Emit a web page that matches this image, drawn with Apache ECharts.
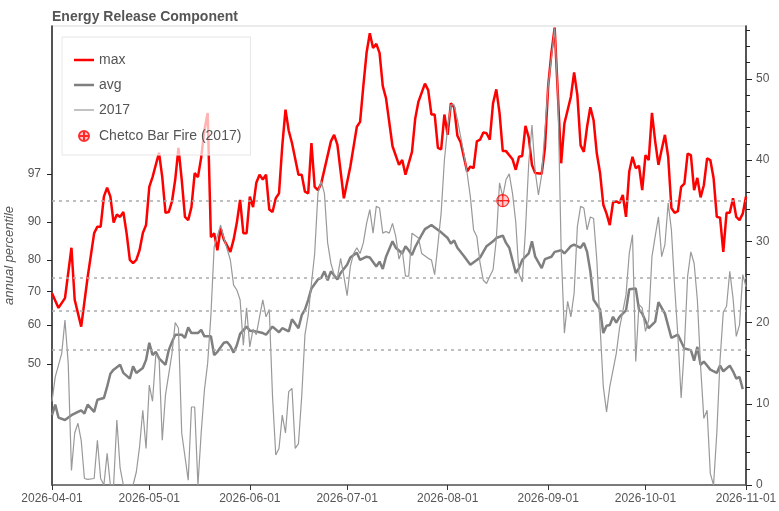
<!DOCTYPE html>
<html><head><meta charset="utf-8">
<script src="https://cdn.jsdelivr.net/npm/echarts@6/dist/echarts.min.js"></script>
<style>html,body{margin:0;padding:0;background:#fff}#c{width:779px;height:511px}</style>
</head><body><div id="c"></div><script>
// ---- data (day offsets from 2026-04-01, values in ERC units) ----
const maxDays = [0,2,4,6,7,9,11,13,14,15,16,17,18,19,20,21,22,23,24,25,26,27,28,29,30,31,33,34,35,36,37,38,39,40,41,42,43,44,45,46,47,48,49,50,51,52,53,55,56,57,58,59,60,61,62,63,64,65,66,67,68,69,70,71,72,73,74,76,77,78,79,80,81,82,83,86,87,88,90,92,94,95,96,97,98,99,100,101,102,103,105,107,108,109,111,112,113,115,116,117,118,119,120,121,122,123,124,125,126,128,129,130,131,132,133,134,135,136,137,138,139,140,142,143,144,145,146,147,148,149,151,152,153,154,155,156,157,158,160,161,162,163,164,165,166,167,168,169,170,171,172,173,174,175,176,177,178,179,180,181,182,183,184,185,186,187,188,189,190,191,192,193,194,195,196,197,198,199,200,201,202,203,204,205,206,207,208,209,210,211,212,213,214];
const maxVals = [23.6,21.8,23.0,29.2,22.8,19.5,25.6,31.0,31.8,31.8,35.5,36.6,35.5,32.3,33.3,33.0,33.6,31.0,27.7,27.3,27.7,28.9,31.0,32.0,36.7,37.9,40.9,37.9,33.5,33.6,34.9,37.6,41.5,37.6,33.0,32.6,34.2,38.4,37.9,40.3,43.7,45.8,30.5,31.0,28.9,31.6,30.2,28.7,30.2,32.3,35.1,31.0,31.0,35.5,34.2,37.2,38.2,37.6,38.2,33.9,33.6,35.3,35.9,41.7,46.2,43.6,42.1,38.2,38.2,36.1,35.9,42.1,36.7,36.3,37.1,42.3,43.1,41.9,35.3,39.2,44.1,44.7,49.1,53.2,55.6,53.8,54.3,53.2,49.1,47.6,41.7,39.4,40.0,38.2,41.0,45.1,47.2,49.4,48.6,45.6,45.6,41.5,41.3,45.6,43.1,47.0,46.5,43.0,42.2,38.6,39.2,39.0,42.3,42.5,43.4,43.3,42.5,47.0,48.7,45.8,41.1,41.1,40.1,38.8,40.4,40.5,44.2,42.8,39.4,38.4,38.3,41.5,49.1,53.2,56.3,48.0,39.6,44.5,47.8,50.8,48.0,41.8,41.0,44.1,46.5,44.9,40.8,38.4,34.5,33.4,32.0,34.8,34.9,34.7,35.7,33.0,38.6,40.4,39.0,39.3,36.3,40.6,40.0,45.8,42.3,39.4,41.3,43.1,40.4,34.1,33.5,33.7,36.7,37.1,40.8,40.6,36.3,37.8,35.4,36.9,40.2,40.0,37.8,33.0,32.9,28.7,33.5,33.5,35.3,33.0,32.6,33.4,35.5];

const avgDays = [0,1,2,4,6,8,9,10,11,13,14,16,17,18,19,21,22,24,25,26,28,29,30,31,32,33,35,36,37,38,40,41,42,43,45,46,47,49,50,51,53,54,55,56,57,58,60,61,63,65,66,68,70,71,73,74,76,77,78,79,80,82,83,84,85,86,88,89,91,92,94,95,97,98,100,101,102,103,105,106,108,109,110,111,112,114,115,117,118,120,122,123,124,125,127,129,131,132,134,136,137,139,140,141,143,144,145,147,148,149,151,152,154,155,157,158,160,161,163,164,165,166,167,169,170,171,172,173,174,175,177,178,180,181,182,184,186,187,189,191,193,195,197,198,199,200,201,203,205,206,207,209,210,211,212,213];
const avgVals = [8.6,9.9,8.3,8.0,8.6,9.0,9.2,8.8,9.9,9.0,10.5,10.7,12.1,13.7,14.2,14.8,13.8,13.1,14.6,13.8,14.4,15.4,17.5,16.0,16.4,15.6,14.8,16.6,17.6,18.5,18.5,18.1,19.4,18.7,18.7,19.1,18.3,18.3,16.0,16.4,17.5,17.6,17.1,16.3,17.2,18.6,19.5,19.0,18.9,18.7,18.5,19.5,18.8,19.3,18.9,20.4,19.3,20.9,21.6,22.8,24.2,25.3,25.5,26.3,25.2,26.3,25.3,26.1,27.1,28.0,28.6,27.7,28.1,28.0,26.9,27.5,26.6,28.1,30.0,29.2,28.5,29.4,28.9,28.3,29.3,30.8,31.5,32.0,31.7,31.1,30.4,29.7,30.1,29.2,28.2,27.1,27.7,28.0,29.4,30.0,30.4,30.7,29.8,29.2,26.1,26.7,27.7,28.5,30.0,28.1,26.7,27.8,28.1,28.7,28.9,28.5,29.4,29.6,29.2,29.8,28.7,26.3,22.8,21.6,18.7,19.6,19.7,20.7,20.0,20.7,21.5,24.1,24.2,21.6,21.1,19.3,20.1,22.5,21.1,18.1,18.5,16.8,16.6,15.3,17.0,14.8,15.2,14.2,13.8,14.7,14.0,14.7,14.0,13.1,13.3,11.8];

const y2017Days = [0,1,3,4,5,6,7,8,9,10,11,13,14,15,16,17,18,19,20,21,22,25,26,27,28,29,30,31,32,33,34,35,37,38,39,40,42,43,44,45,46,47,48,49,50,52,53,55,56,57,58,59,60,61,62,63,64,65,66,67,68,69,70,71,72,73,74,75,76,77,78,79,80,81,82,83,84,85,86,87,88,89,90,91,92,93,94,95,96,97,98,99,100,101,102,103,104,105,106,107,108,109,110,111,113,114,116,117,118,119,120,121,122,123,124,125,126,127,128,129,130,131,132,133,134,135,136,137,138,139,140,141,142,143,144,145,146,147,148,149,150,151,153,155,156,157,158,159,160,161,162,163,164,165,166,167,168,169,170,171,172,174,175,177,178,179,180,181,182,183,184,185,186,187,188,189,190,191,192,193,194,195,196,197,198,199,200,201,202,203,204,205,206,207,208,209,210,211,212,213,214];
const y2017Vals = [10.3,13.3,16.2,20.3,15.0,1.8,6.4,7.6,5.5,0.8,0.7,0.8,5.5,0.8,0,3.9,0,0,8.0,2.1,0,0,1.6,4.7,9.2,4.5,12.3,10.3,16.0,15.8,5.5,11.1,16.2,20.0,19.3,6.4,0.6,9.6,9.6,0,6.4,11.7,15.0,20.9,29.3,32.0,30.4,27.7,24.6,24.0,22.8,17.2,21.8,17.0,19.2,18.5,20.7,22.8,20.7,21.6,10.9,3.7,4.5,8.6,6.4,11.5,11.9,4.5,5.1,10.9,18.5,20.9,24.8,28.5,35.9,37.4,35.9,29.8,27.3,25.9,25.5,27.9,25.7,23.3,26.9,28.5,29.2,28.5,29.8,32.2,33.9,31.0,34.3,34.1,31.0,31.2,31.0,32.2,30.6,27.8,28.9,25.7,25.7,31.0,30.4,28.5,27.9,27.7,25.9,29.6,33.5,40.0,44.0,46.8,46.8,45.0,42.9,40.8,38.4,35.5,31.4,30.6,27.3,25.2,24.8,25.7,26.5,30.2,37.2,35.5,37.6,38.3,35.9,32.4,26.0,25.0,31.4,39.6,44.3,38.6,35.7,38.2,49.1,56.2,48.0,29.0,18.7,22.6,20.7,23.6,31.8,34.3,34.1,31.4,33.0,32.8,27.7,19.5,12.1,9.0,12.1,16.2,19.3,23.4,28.5,30.8,15.2,22.2,21.8,18.9,20.3,28.1,30.6,33.0,28.1,29.6,34.7,31.4,24.4,18.3,10.7,17.0,25.7,28.7,27.3,22.8,14.6,8.2,9.2,1.4,0,6.4,15.4,21.3,22.0,26.3,23.0,18.3,19.7,25.9,24.4];

const fireDay = [139];
const fireVal = [35.0];

const pctLabels = ['50','60','70','80','90','97'];
const pctPos = [14.9,19.7,23.8,27.7,32.4,38.3];
const dashedLevels = [35.0,25.5,21.5,16.6];
const rightTicks = [0,10,20,30,40,50];
const minorTicks = [2,4,6,8,12,14,16,18,22,24,26,28,32,34,36,38,42,44,46,48,52,54,56];
const monthTicks = ['2026-04-01','2026-05-01','2026-06-01','2026-07-01','2026-08-01','2026-09-01','2026-10-01','2026-11-01'];
const YMAX = 56.5;

// ---- helpers ----
function ts(day){ return new Date(2026, 3, 1 + day).getTime(); }
function parseD(s){ const p = s.split('-').map(Number); return new Date(p[0], p[1]-1, p[2]).getTime(); }
function pad(n){ return (n<10?'0':'')+n; }
function fmt(v){ const d = new Date(v); return d.getFullYear()+'-'+pad(d.getMonth()+1)+'-'+pad(d.getDate()); }
function pairs(days, vals){ return days.map((d,i)=>[ts(d), vals[i]]); }

// legend icons (line bars padded to the 20x14 icon box; small circled plus)
const ICON_THICK = 'path://M0,0L0,0M0,14L0,14M0,5.75H20V8.25H0Z';
const ICON_THIN = 'path://M0,0L0,0M0,14L0,14M0,6.4H20V7.6H0Z';
const FIRE_SYMBOL = 'path://M10,0A10,10,0,1,1,-10,0A10,10,0,1,1,10,0ZM-10,0L10,0M0,-10L0,10';
const FIRE_ICON = 'path://M-20,-14L-20,-14M20,14L20,14M10,0A10,10,0,1,1,-10,0A10,10,0,1,1,10,0ZM-10,0L10,0M0,-10L0,10';

const FONT = 'Liberation Sans, Arial, sans-serif';
const monthTs = monthTicks.map(parseD);
const chart = echarts.init(document.getElementById('c'), null, {renderer:'canvas'});
chart.setOption({
  animation:false,
  textStyle:{fontFamily:FONT},
  title:{text:'Energy Release Component', left:47, top:5, textStyle:{fontSize:14, fontWeight:'bold', color:'#555', fontFamily:FONT}},
  grid:{left:52, right:33, top:26, bottom:26, containLabel:false, outerBoundsMode:'none', show:true, borderColor:'#ebebeb', borderWidth:2, backgroundColor:'transparent'},
  legend:{
    orient:'vertical', left:62, top:37, padding:[16,9,11,11], itemGap:11, itemWidth:20, itemHeight:14,
    backgroundColor:'rgba(255,255,255,0.7)', borderColor:'#e6e6e6', borderWidth:1, borderRadius:0,
    textStyle:{fontSize:14, color:'#555', fontFamily:FONT},
    data:[
      {name:'max', icon:ICON_THICK},
      {name:'avg', icon:ICON_THICK},
      {name:'2017', icon:ICON_THIN},
      {name:'Chetco Bar Fire (2017)', icon:FIRE_ICON}
    ]
  },
  xAxis:{
    type:'value', min:monthTs[0], max:monthTs[monthTs.length-1],
    axisLine:{show:true, lineStyle:{color:'#555', width:1.5}},
    axisTick:{show:true, customValues:monthTs, length:5, lineStyle:{color:'#333'}},
    axisLabel:{customValues:monthTs, formatter:fmt, color:'#555', fontSize:12, margin:8, fontFamily:FONT},
    splitLine:{show:false}
  },
  yAxis:[
    {
      type:'value', position:'left', min:0, max:YMAX,
      axisLine:{show:true, lineStyle:{color:'#222', width:1.5}},
      axisTick:{show:true, customValues:pctPos, length:5, lineStyle:{color:'#222'}},
      axisLabel:{customValues:pctPos, color:'#555', fontSize:12, margin:11, fontFamily:FONT,
        formatter:function(v){ for(let i=0;i<pctPos.length;i++){ if(Math.abs(pctPos[i]-v)<1e-6) return pctLabels[i]; } return ''; }},
      splitLine:{show:false},
      name:'annual percentile', nameLocation:'middle', nameGap:36,
      nameTextStyle:{fontStyle:'italic', color:'#555', fontSize:13, fontFamily:FONT}
    },
    {
      type:'value', position:'right', min:0, max:YMAX,
      axisLine:{show:true, lineStyle:{color:'#222', width:1.5}},
      axisTick:{show:true, customValues:rightTicks, length:6, lineStyle:{color:'#222'}},
      axisLabel:{customValues:rightTicks, color:'#555', fontSize:12, margin:10, fontFamily:FONT},
      splitLine:{show:false}
    },
    {
      type:'value', position:'right', min:0, max:YMAX, offset:0,
      axisLine:{show:false},
      axisTick:{show:true, customValues:minorTicks, length:4, lineStyle:{color:'#222'}},
      axisLabel:{show:false},
      splitLine:{show:false}
    }
  ],
  series:[
    {name:'max', type:'line', data:pairs(maxDays,maxVals), symbol:'none', lineStyle:{color:'#ff0000', width:2.5}, itemStyle:{color:'#ff0000'}, z:2},
    {name:'avg', type:'line', data:pairs(avgDays,avgVals), symbol:'none', lineStyle:{color:'#7f7f7f', width:2.5}, itemStyle:{color:'#7f7f7f'}, z:3,
      markLine:{silent:true, symbol:'none', label:{show:false}, lineStyle:{color:'#aaa', type:[3,4], width:1.5}, data:dashedLevels.map(v=>({yAxis:v}))}},
    {name:'2017', type:'line', data:pairs(y2017Days,y2017Vals), symbol:'none', lineStyle:{color:'#999', width:1.2}, itemStyle:{color:'#999'}, z:4},
    {name:'Chetco Bar Fire (2017)', type:'scatter', data:pairs(fireDay,fireVal), symbol:FIRE_SYMBOL, symbolSize:12,
      itemStyle:{color:'rgba(255,0,0,0.25)', borderColor:'#ff0000', borderWidth:1.2}, z:5}
  ]
});
</script></body></html>
